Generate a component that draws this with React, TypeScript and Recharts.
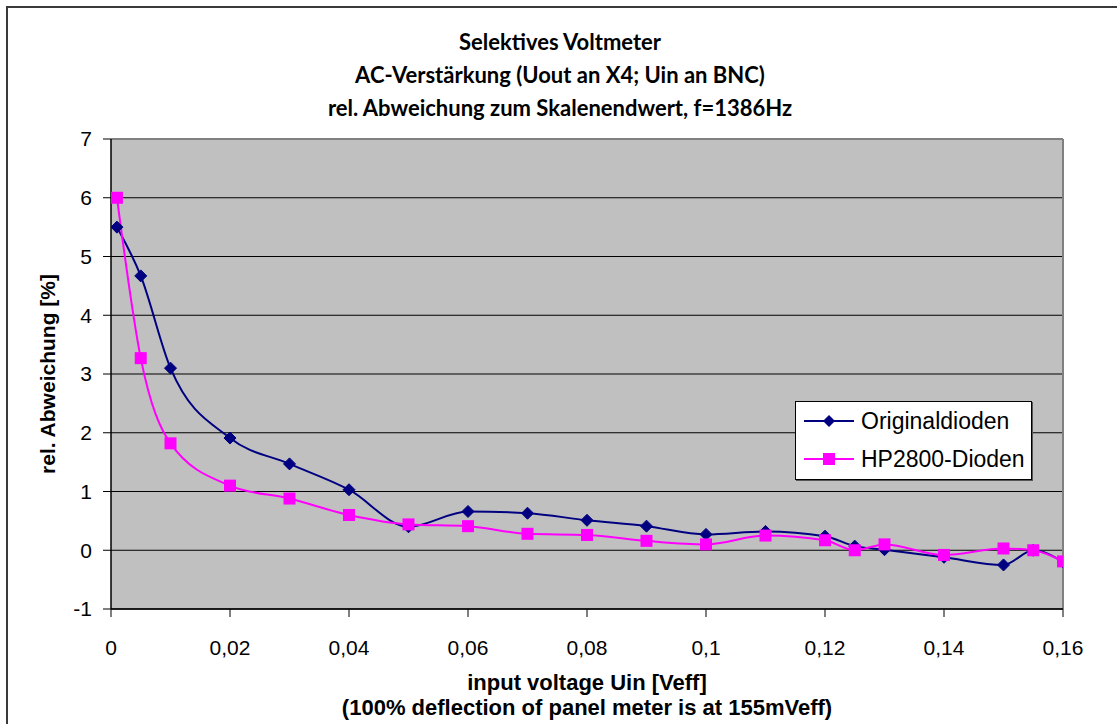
import React from "react";
import { LineChart, Line, XAxis, YAxis, CartesianGrid, ReferenceLine, Legend } from "recharts";

// input voltage Uin [Veff]
const inputVoltage = [0.001, 0.005, 0.01, 0.02, 0.03, 0.04, 0.05, 0.06, 0.07, 0.08, 0.09, 0.1, 0.11, 0.12, 0.125, 0.13, 0.14, 0.15, 0.155, 0.16];
// rel. Abweichung [%]
const originalDioden = [5.5, 4.67, 3.1, 1.91, 1.47, 1.03, 0.4, 0.66, 0.63, 0.51, 0.41, 0.27, 0.32, 0.24, 0.07, 0.01, -0.12, -0.25, 0.0, -0.2];
const hp2800Dioden = [6.0, 3.27, 1.82, 1.1, 0.88, 0.6, 0.44, 0.41, 0.28, 0.26, 0.16, 0.1, 0.25, 0.17, 0.0, 0.1, -0.08, 0.03, 0.0, -0.19];

const xTicks = [0, 0.02, 0.04, 0.06, 0.08, 0.1, 0.12, 0.14, 0.16];
const yTicks = [-1, 0, 1, 2, 3, 4, 5, 6, 7];

const titleLines = [
    "Selektives Voltmeter",
    "AC-Verstärkung (Uout an X4; Uin an BNC)",
    "rel. Abweichung zum Skalenendwert, f=1386Hz",
];

const NAVY = "#000080";
const MAGENTA = "#FF00FF";
const ARIAL = "'Liberation Sans', Arial, sans-serif";
const TITLE_FONT = "Lato, 'Open Sans', sans-serif";

const data = inputVoltage.map((x, i) => ({ x, orig: originalDioden[i], hp: hp2800Dioden[i] }));

const tickStyle = { fontSize: 21, fill: "#000", fontFamily: ARIAL };

function diamondDot(props: any) {
    const { cx, cy, index } = props;
    const r = 6;
    return <path key={`d-${index}`} d={`M${cx},${cy - r}L${cx + r},${cy}L${cx},${cy + r}L${cx - r},${cy}Z`} fill={NAVY} stroke={NAVY} strokeWidth={1} />;
}

function squareDot(props: any) {
    const { cx, cy, index } = props;
    const s = 12;
    return <rect key={`s-${index}`} x={cx - s / 2} y={cy - s / 2} width={s} height={s} fill={MAGENTA} />;
}

function LegendBox(props: any) {
    const items = [...(props.payload || [])].sort((a: any, b: any) => (a.dataKey === "orig" ? -1 : b.dataKey === "orig" ? 1 : 0));
    return (
        <div style={{ width: 235, height: 77, background: "#fff", border: "1px solid #000", boxShadow: "1px 1px 0 #555", boxSizing: "content-box" }}>
            {items.map((it: any, i: number) => {
                const isOrig = it.dataKey === "orig";
                return (
                    <div key={i} style={{ display: "flex", alignItems: "center", height: 38, paddingLeft: 8 }}>
                        <svg width={52} height={16} style={{ marginRight: 5 }}>
                            <line x1={0} y1={8} x2={50} y2={8} stroke={it.color} strokeWidth={2} />
                            {isOrig ? (
                                <path d="M25,2L31,8L25,14L19,8Z" fill={NAVY} />
                            ) : (
                                <rect x={19} y={2} width={12} height={12} fill={MAGENTA} />
                            )}
                        </svg>
                        <span style={{ fontFamily: ARIAL, fontSize: 23, color: "#000" }}>{it.value}</span>
                    </div>
                );
            })}
        </div>
    );
}

export default function App() {
    return (
        <div style={{ position: "absolute", left: 0, top: 0, width: 1117, height: 724, overflow: "hidden", background: "#fff" }}>
            <div style={{ position: "absolute", left: 6, top: 6, width: 1200, height: 800, border: "2px solid #3a3a3a" }} />

            {titleLines.map((t, i) => (
                <div
                    key={i}
                    style={{
                        position: "absolute",
                        left: 0,
                        width: 1120,
                        top: 27 + i * 33,
                        height: 30,
                        lineHeight: "30px",
                        textAlign: "center",
                        fontFamily: TITLE_FONT,
                        fontWeight: 700,
                        fontSize: 22,
                        color: "#000",
                    }}
                >
                    {t}
                </div>
            ))}

            <LineChart width={1117} height={724} data={data} margin={{ top: 139, right: 54, bottom: 75, left: 0 }} style={{ position: "absolute", left: 0, top: 0 }}>
                <CartesianGrid vertical={false} fill="#C0C0C0" stroke="#000" strokeWidth={1} fillOpacity={1} />
                <XAxis
                    dataKey="x"
                    type="number"
                    domain={[0, 0.16]}
                    ticks={xTicks}
                    interval={0}
                    allowDataOverflow
                    tickFormatter={(v: number) => String(v).replace(".", ",")}
                    tick={tickStyle}
                    tickSize={8}
                    tickMargin={23}
                    axisLine={{ stroke: "#000", strokeWidth: 1.5 }}
                    tickLine={{ stroke: "#000" }}
                    height={40}
                />
                <YAxis
                    type="number"
                    domain={[-1, 7]}
                    ticks={yTicks}
                    interval={0}
                    tick={tickStyle}
                    tickSize={8}
                    tickMargin={11}
                    axisLine={{ stroke: "#000", strokeWidth: 1.5 }}
                    tickLine={{ stroke: "#000" }}
                    width={111}
                />
                <ReferenceLine y={7} stroke="#808080" strokeWidth={2} />
                <ReferenceLine x={0.16} stroke="#808080" strokeWidth={2} />
                <Legend
                    layout="vertical"
                    align="center"
                    verticalAlign="middle"
                    content={LegendBox}
                    wrapperStyle={{ left: 795, top: 401, width: 237, height: 79 }}
                />
                <Line
                    name="Originaldioden"
                    dataKey="orig"
                    type="monotone"
                    stroke={NAVY}
                    strokeWidth={2}
                    dot={diamondDot}
                    activeDot={false}
                    isAnimationActive={false}
                />
                <Line
                    name="HP2800-Dioden"
                    dataKey="hp"
                    type="monotone"
                    stroke={MAGENTA}
                    strokeWidth={2}
                    dot={squareDot}
                    activeDot={false}
                    isAnimationActive={false}
                />
            </LineChart>

            <div style={{ position: "absolute", left: 36, top: 374, width: 0, height: 0 }}>
                <div
                    style={{
                        position: "absolute",
                        left: -200,
                        top: -13,
                        width: 400,
                        height: 26,
                        lineHeight: "26px",
                        textAlign: "center",
                        transform: "translate(12px, 0) rotate(-90deg)",
                        fontFamily: ARIAL,
                        fontWeight: 700,
                        fontSize: 21,
                        color: "#000",
                        whiteSpace: "nowrap",
                    }}
                >
                    rel. Abweichung [%]
                </div>
            </div>

            <div style={{ position: "absolute", left: 187, width: 800, top: 670, lineHeight: "25px", textAlign: "center", fontFamily: ARIAL, fontWeight: 700, fontSize: 22, color: "#000", whiteSpace: "nowrap" }}>
                <div>input voltage Uin [Veff]</div>
                <div>(100% deflection of panel meter is at 155mVeff)</div>
            </div>
        </div>
    );
}
